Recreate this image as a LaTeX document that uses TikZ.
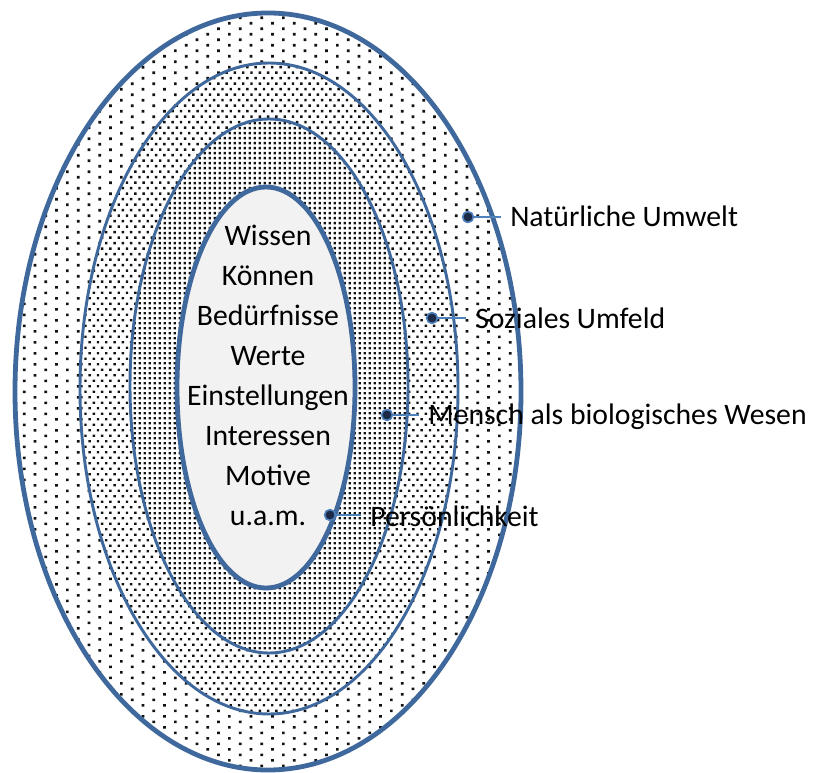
\documentclass[tikz,border=0pt]{standalone}
\usepackage{fontspec}
\setmainfont{Carlito}
\definecolor{ringblue}{HTML}{3F689C}
\definecolor{leaderblue}{HTML}{4F81BD}
\definecolor{pinfill}{HTML}{1B2A47}
\definecolor{coregray}{HTML}{F2F2F2}
\definecolor{dotcol}{HTML}{111111}
\begin{document}
\begin{tikzpicture}[x=0.75pt,y=-0.75pt,
  thickring/.style={draw=ringblue,line width=3.6pt},
  thinring/.style={draw=ringblue,line width=2.2pt},
  pindot/.style={circle,draw=leaderblue,line width=1.1pt,fill=pinfill,minimum size=8pt,inner sep=0pt},
  pinlabel/.style={anchor=base west,inner sep=0pt,font=\fontsize{22.3}{30}\selectfont,text=black},
  leader/.style={draw=leaderblue,line width=1.6pt,shorten >=7pt}
]
\useasboundingbox (0,0) rectangle (816,773);
\coordinate (c1) at (268,391.5);
\coordinate (c2) at (269,388.5);
\coordinate (c3) at (269,386);
\coordinate (c4) at (266,387.5);
% outer ring: sparse staggered dots
\begin{scope}
  \clip (c1) ellipse [x radius=253,y radius=378.5];
  \foreach \j in {0,...,140} {
    \pgfmathsetmacro\yy{11+\j*5.5}
    \pgfmathsetmacro\xo{12+mod(\j,2)*10.8}
    \fill[dotcol] \foreach \i in {0,...,24} {
      ({\xo+\i*21.6},\yy) rectangle ++(2.7,2.7) }; }
\end{scope}
% social ring: medium staggered dots
\fill[white] (c2) ellipse [x radius=189,y radius=325.5];
\begin{scope}
  \clip (c2) ellipse [x radius=189,y radius=325.5];
  \foreach \j in {0,...,121} {
    \pgfmathsetmacro\yy{60.5+\j*5.5}
    \pgfmathsetmacro\xo{76+mod(\j,2)*4.15}
    \fill[dotcol] \foreach \i in {0,...,46} {
      ({\xo+\i*8.3},\yy) rectangle ++(2.4,2.4) }; }
\end{scope}
% biological ring: dense square dots
\fill[white] (c3) ellipse [x radius=139,y radius=267];
\begin{scope}
  \clip (c3) ellipse [x radius=139,y radius=267];
  \foreach \j in {0,...,107} {
    \pgfmathsetmacro\yy{117+\j*5}
    \fill[dotcol] \foreach \i in {0,...,56} {
      ({128.5+\i*5},\yy) rectangle ++(2.3,2.3) }; }
\end{scope}
% core
\fill[coregray] (c4) ellipse [x radius=89,y radius=200.5];
% outlines
\draw[thickring] (c1) ellipse [x radius=253,y radius=378.5];
\draw[thinring] (c2) ellipse [x radius=189,y radius=325.5];
\draw[thinring] (c3) ellipse [x radius=139,y radius=267];
\draw[thickring] (c4) ellipse [x radius=89,y radius=200.5];
% core text
\node[font=\fontsize{22.3}{30}\selectfont,align=center,inner sep=0pt] (core) at (268,375)
  {Wissen\\Können\\Bedürfnisse\\Werte\\Einstellungen\\Interessen\\Motive\\u.a.m.};
% labels
\node[pinlabel] (l1) at (510,227) {Natürliche Umwelt};
\node[pinlabel] (l2) at (475,328) {Soziales Umfeld};
\node[pinlabel] (l3) at (428,424) {Mensch als biologisches Wesen};
\node[pinlabel] (l4) at (370,526) {Persönlichkeit};
\node[pindot] (p1) at (468,217) {};
\node[pindot] (p2) at (432,318) {};
\node[pindot] (p3) at (387,415) {};
\node[pindot] (p4) at (330,515) {};
\draw[leader] (p1.center) -- (p1.center -| l1.west);
\draw[leader] (p2.center) -- (p2.center -| l2.west);
\draw[leader] (p3.center) -- (p3.center -| l3.west);
\draw[leader] (p4.center) -- (p4.center -| l4.west);
\node[pindot] at (p1) {};
\node[pindot] at (p2) {};
\node[pindot] at (p3) {};
\node[pindot] at (p4) {};
\end{tikzpicture}
\end{document}
